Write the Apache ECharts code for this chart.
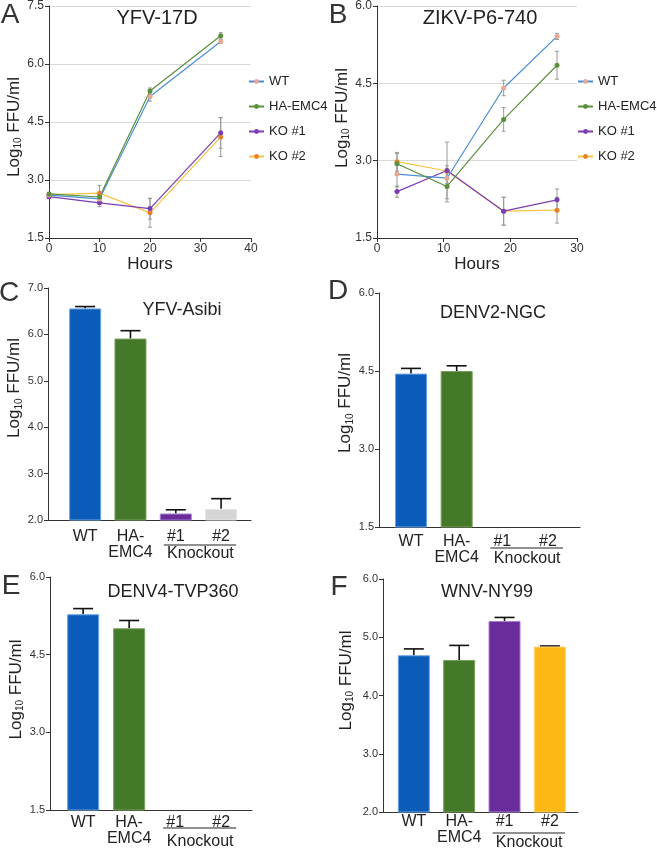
<!DOCTYPE html>
<html><head><meta charset="utf-8">
<script src="https://cdn.jsdelivr.net/npm/echarts@6/dist/echarts.min.js"></script>
<style>html,body{margin:0;padding:0;background:#fff}#c{width:657px;height:849px}</style>
</head><body><div id="c"></div>
<script>
const FONT = "'Liberation Sans', Arial, Helvetica, sans-serif";
const seriesNames = ['WT', 'HA-EMC4', 'KO #1', 'KO #2'];

// Panel A: YFV-17D
const A_hours = [0, 10, 20, 34];
const A_WT = [2.61, 2.51, 5.16, 6.58];
const A_WT_err = [0.04, 0.08, 0.12, 0.05];
const A_HA = [2.64, 2.56, 5.30, 6.73];
const A_HA_err = [0.04, 0.06, 0.08, 0.08];
const A_KO1 = [2.57, 2.41, 2.26, 4.22];
const A_KO1_err = [0.05, 0.10, 0.27, 0.40];
const A_KO2 = [2.62, 2.66, 2.15, 4.11];
const A_KO2_err = [0.05, 0.20, 0.37, 0.50];

// Panel B: ZIKV-P6-740
const B_hours = [3, 10.5, 19, 27];
const B_WT = [2.74, 2.66, 4.41, 5.41];
const B_WT_err = [0.25, 0.10, 0.15, 0.06];
const B_HA = [2.94, 2.50, 3.80, 4.85];
const B_HA_err = [0.20, 0.30, 0.23, 0.27];
const B_KO1 = [2.40, 2.81, 2.02, 2.24];
const B_KO1_err = [0.11, 0.55, 0.27, 0.21];
const B_KO2 = [2.98, 2.80, 2.02, 2.04];
const B_KO2_err = [0.18, 0.10, 0.27, 0.25];

// Bar panels
const barCats = ['WT', 'HA-\nEMC4', '#1', '#2'];
const C_values = [6.56, 5.91, 2.14, 2.24];
const C_err = [0.04, 0.17, 0.08, 0.22];
const D_values = [4.45, 4.50, null, null];
const D_err = [0.10, 0.10, null, null];
const E_values = [5.28, 5.01, null, null];
const E_err = [0.11, 0.15, null, null];
const F_values = [4.69, 4.61, 5.28, 4.84];
const F_err = [0.11, 0.25, 0.06, 0.01];

const lineColors = ['#4a8fd6', '#5b8f3c', '#7a3db3', '#f6c443'];
const markerColors = ['#eaa792', '#5b8f3c', '#7a3db3', '#e5802b'];
const barColorsGray = ['#0a5cb8', '#44792a', '#6a2c9c', '#d5d5d5'];
const barColorsYellow = ['#0a5cb8', '#44792a', '#6a2c9c', '#fdb815'];
const barBorderGray = ['#6aa6e3', '#78a05c', '#a47fcb', '#e6e6e6'];
const barBorderYellow = ['#6aa6e3', '#78a05c', '#a47fcb', '#ffd36e'];

const chart = echarts.init(document.getElementById('c'), null, {renderer: 'canvas'});

function yName(gap, shiftUp) {
  const pad = shiftUp >= 0 ? [0, 0, 0, 2 * shiftUp] : [0, -2 * shiftUp, 0, 0];
  return {
    name: '{a|Log}{b|10}{a| FFU/ml}',
    nameLocation: 'middle',
    nameGap: gap,
    nameTextStyle: {
      padding: pad,
      rich: {
        a: {fontSize: 17, fontFamily: FONT, color: '#222'},
        b: {fontSize: 10, fontFamily: FONT, color: '#222', padding: [8, 0, 0, 0]}
      }
    }
  };
}

function yAxisCfg(grid, min, max, interval, split, gap, shiftUp, fs) {
  return Object.assign({
    type: 'value', gridIndex: grid, min: min, max: max, interval: interval,
    axisLine: {show: true, onZero: false, lineStyle: {color: '#333', width: 1}},
    axisTick: {show: true, length: 4, lineStyle: {color: '#333'}},
    axisLabel: {fontSize: fs, color: '#333', margin: 5, fontFamily: FONT,
      formatter: v => v.toFixed(1)},
    splitLine: {show: split, lineStyle: {color: '#d9d9d9', width: 1}}
  }, yName(gap, shiftUp));
}

function xLineAxis(grid, min, max, gap) {
  return {
    type: 'value', gridIndex: grid, min: min, max: max, interval: 10,
    name: 'Hours', nameLocation: 'middle', nameGap: gap,
    nameTextStyle: {fontSize: 17, color: '#222', fontFamily: FONT},
    axisLine: {show: true, onZero: false, lineStyle: {color: '#333'}},
    axisTick: {show: true, length: 4, lineStyle: {color: '#333'}},
    axisLabel: {fontSize: 12, color: '#333', margin: 5, fontFamily: FONT},
    splitLine: {show: false}
  };
}

function xBarAxis(grid, min, max, margin) {
  return {
    type: 'value', gridIndex: grid, min: min, max: max,
    axisLine: {show: true, onZero: false, lineStyle: {color: '#333'}},
    axisTick: {show: false},
    axisLabel: {
      customValues: [0, 1, 2, 3],
      formatter: v => barCats[Math.round(v)],
      fontSize: 16, lineHeight: 16, color: '#222', margin: margin, fontFamily: FONT,
      verticalAlign: 'top'
    },
    splitLine: {show: false}
  };
}

function lineSeries(idx, ax, hours, vals) {
  return {
    type: 'line', name: seriesNames[idx], xAxisIndex: ax, yAxisIndex: ax,
    data: hours.map((h, i) => [h, vals[i]]),
    symbol: 'circle', symbolSize: 5, z: 3,
    lineStyle: {color: lineColors[idx], width: 1.2},
    itemStyle: {color: markerColors[idx]}
  };
}

function errLineRender(params, api) {
  const x = api.value(0);
  const p1 = api.coord([x, api.value(1)]);
  const p2 = api.coord([x, api.value(2)]);
  const st = {stroke: '#9a9a9a', lineWidth: 1};
  return {type: 'group', children: [
    {type: 'line', shape: {x1: p1[0], y1: p1[1], x2: p2[0], y2: p2[1]}, style: st},
    {type: 'line', shape: {x1: p1[0] - 2, y1: p1[1], x2: p1[0] + 2, y2: p1[1]}, style: st},
    {type: 'line', shape: {x1: p2[0] - 2, y1: p2[1], x2: p2[0] + 2, y2: p2[1]}, style: st}
  ]};
}

function errLineSeries(ax, hours, vals, errs) {
  return {
    type: 'custom', xAxisIndex: ax, yAxisIndex: ax, z: 2, silent: true,
    renderItem: errLineRender,
    encode: {x: 0, y: [1, 2]},
    data: hours.map((h, i) => [h, vals[i] - errs[i], vals[i] + errs[i]])
  };
}

function errBarRender(params, api) {
  const x = api.value(0);
  const p1 = api.coord([x, api.value(1)]);
  const p2 = api.coord([x, api.value(2)]);
  const st = {stroke: '#111', lineWidth: 1.6};
  return {type: 'group', children: [
    {type: 'line', shape: {x1: p1[0], y1: p1[1], x2: p2[0], y2: p2[1]}, style: st},
    {type: 'line', shape: {x1: p2[0] - 10, y1: p2[1], x2: p2[0] + 10, y2: p2[1]}, style: st}
  ]};
}

function barSeries(ax, vals, colors, borders) {
  const data = [];
  vals.forEach((v, i) => {
    if (v !== null) data.push({value: [i, v], itemStyle: {color: colors[i], borderColor: borders[i], borderWidth: 1}});
  });
  return {type: 'bar', xAxisIndex: ax, yAxisIndex: ax, barWidth: 32, data: data, z: 2};
}

function errBarSeries(ax, vals, errs) {
  const data = [];
  vals.forEach((v, i) => { if (v !== null) data.push([i, v, v + errs[i]]); });
  return {type: 'custom', xAxisIndex: ax, yAxisIndex: ax, z: 1, silent: true,
    renderItem: errBarRender, encode: {x: 0, y: [1, 2]}, data: data};
}

const legendBase = {
  orient: 'vertical', itemWidth: 15, itemHeight: 6, itemGap: 12, padding: 0,
  textStyle: {fontSize: 13, color: '#222', fontFamily: FONT},
  data: seriesNames
};

const option = {
  animation: false,
  textStyle: {fontFamily: FONT},
  grid: [
    {left: 49, top: 5, width: 202, height: 233},
    {left: 377, top: 5, width: 200, height: 233},
    {left: 48, top: 288, width: 203, height: 232},
    {left: 379, top: 293, width: 201, height: 234},
    {left: 50, top: 577, width: 202, height: 233},
    {left: 383, top: 579, width: 195, height: 233}
  ],
  xAxis: [
    xLineAxis(0, 0, 40, 18),
    xLineAxis(1, 0, 30, 11),
    xBarAxis(2, -0.82, 3.66, 9),
    xBarAxis(3, -0.70, 3.70, 7),
    xBarAxis(4, -0.72, 3.67, 5),
    xBarAxis(5, -0.68, 3.62, 2)
  ],
  yAxis: [
    yAxisCfg(0, 1.5, 7.5, 1.5, true, 25, -5, 12),
    yAxisCfg(1, 1.5, 6.0, 1.5, true, 25, 4, 12),
    yAxisCfg(2, 2, 7, 1, false, 23, 16, 11),
    yAxisCfg(3, 1.5, 6.0, 1.5, false, 24, 7, 11),
    yAxisCfg(4, 1.5, 6.0, 1.5, false, 25, 4, 11),
    yAxisCfg(5, 2, 6, 1, false, 28, 15, 11)
  ],
  legend: [
    Object.assign({left: 248, top: 75}, legendBase),
    Object.assign({left: 577, top: 75}, legendBase)
  ],
  series: [
    errLineSeries(0, A_hours, A_WT, A_WT_err),
    errLineSeries(0, A_hours, A_HA, A_HA_err),
    errLineSeries(0, A_hours, A_KO1, A_KO1_err),
    errLineSeries(0, A_hours, A_KO2, A_KO2_err),
    lineSeries(3, 0, A_hours, A_KO2),
    lineSeries(2, 0, A_hours, A_KO1),
    lineSeries(0, 0, A_hours, A_WT),
    lineSeries(1, 0, A_hours, A_HA),
    errLineSeries(1, B_hours, B_WT, B_WT_err),
    errLineSeries(1, B_hours, B_HA, B_HA_err),
    errLineSeries(1, B_hours, B_KO1, B_KO1_err),
    errLineSeries(1, B_hours, B_KO2, B_KO2_err),
    lineSeries(3, 1, B_hours, B_KO2),
    lineSeries(2, 1, B_hours, B_KO1),
    lineSeries(0, 1, B_hours, B_WT),
    lineSeries(1, 1, B_hours, B_HA),
    errBarSeries(2, C_values, C_err), barSeries(2, C_values, barColorsGray, barBorderGray),
    errBarSeries(3, D_values, D_err), barSeries(3, D_values, barColorsGray, barBorderGray),
    errBarSeries(4, E_values, E_err), barSeries(4, E_values, barColorsGray, barBorderGray),
    errBarSeries(5, F_values, F_err), barSeries(5, F_values, barColorsYellow, barBorderYellow)
  ]
};
chart.setOption(option);

function txt(t, x, y, fs, extra) {
  return {type: 'text', silent: true, z: 10, style: Object.assign({
    text: t, x: x, y: y, fontSize: fs, fontFamily: FONT, fill: '#222',
    align: 'center', verticalAlign: 'middle'}, extra || {})};
}

const graphics = [
  txt('A', 10, 15, 28, {fill: '#333'}),
  txt('B', 338, 15, 28, {fill: '#333'}),
  txt('C', 9, 293, 28, {fill: '#333'}),
  txt('D', 338, 291, 28, {fill: '#333'}),
  txt('E', 11, 586, 28, {fill: '#333'}),
  txt('F', 339, 587, 28, {fill: '#333'}),
  txt('YFV-17D', 157, 18, 20),
  txt('ZIKV-P6-740', 480, 18, 20),
  txt('YFV-Asibi', 182, 310, 18),
  txt('DENV2-NGC', 493, 313, 18),
  txt('DENV4-TVP360', 173, 592, 18),
  txt('WNV-NY99', 487, 592, 18)
];

// "Knockout" group annotations under categories #1 and #2
const koLayout = [
  {ax: 2, ymin: 2, lineOff: 25, textOff: 34},
  {ax: 3, ymin: 1.5, lineOff: 21, textOff: 32},
  {ax: 4, ymin: 1.5, lineOff: 18, textOff: 32},
  {ax: 5, ymin: 2, lineOff: 21, textOff: 31}
];
koLayout.forEach(k => {
  const x2 = chart.convertToPixel({xAxisIndex: k.ax}, 2);
  const x3 = chart.convertToPixel({xAxisIndex: k.ax}, 3);
  const base = chart.convertToPixel({yAxisIndex: k.ax}, k.ymin);
  graphics.push({type: 'line', silent: true, z: 10,
    shape: {x1: x2 - 12, y1: base + k.lineOff, x2: x3 + 15, y2: base + k.lineOff},
    style: {stroke: '#222', lineWidth: 1.2}});
  graphics.push(txt('Knockout', (x2 + x3) / 2 + 2, base + k.textOff, 16));
});
chart.setOption({graphic: graphics});
</script>
</body></html>
